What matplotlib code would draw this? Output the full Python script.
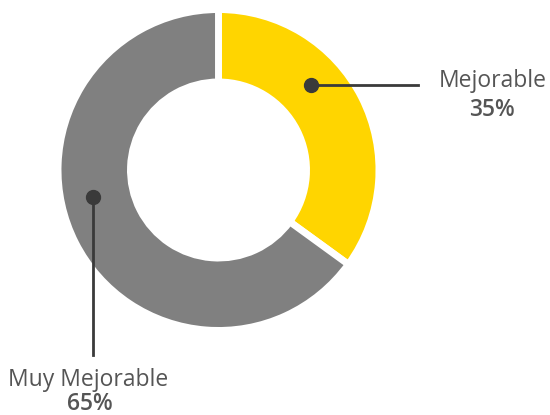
import matplotlib
matplotlib.use("Agg")
import matplotlib.pyplot as plt

# 데이터
labels = ["Mejorable", "Muy Mejorable"]
values = [35, 65]
colors = ["#FFD500", "#808080"]

W, H = 550, 415
fig = plt.figure(figsize=(W / 100, H / 100), dpi=100)
ax = fig.add_axes([0, 0, 1, 1])

cx, cy = 218.5, 245
ax.pie(values, colors=colors, startangle=90, counterclock=False,
       center=(cx, cy), radius=160.5, frame=True,
       wedgeprops=dict(width=72.5, edgecolor="white", linewidth=5))
ax.set_xlim(0, W)
ax.set_ylim(0, H)
ax.set_aspect("equal")
ax.axis("off")

line_c = "#3a3a3a"
text_c = "#555555"
font = "Open Sans"
fs = 16.5

# Mejorable
ax.plot([311, 418], [330, 330], color=line_c, lw=2, zorder=5)
ax.plot(311, 330, "o", color=line_c, ms=10, zorder=6)
ax.text(493, 334, labels[0], ha="center", va="center", fontsize=fs, color=text_c, family=font)
ax.text(492, 305, f"{values[0]}%", ha="center", va="center", fontsize=fs, color=text_c,
        family=font, fontweight="semibold")

# Muy Mejorable
ax.plot([93, 93], [218, 60], color=line_c, lw=2, zorder=5)
ax.plot(93, 218, "o", color=line_c, ms=10, zorder=6)
ax.text(88, 35, labels[1], ha="center", va="center", fontsize=fs, color=text_c, family=font)
ax.text(90, 11, f"{values[1]}%", ha="center", va="center", fontsize=fs, color=text_c,
        family=font, fontweight="semibold")

fig.savefig("out.png", dpi=100)
